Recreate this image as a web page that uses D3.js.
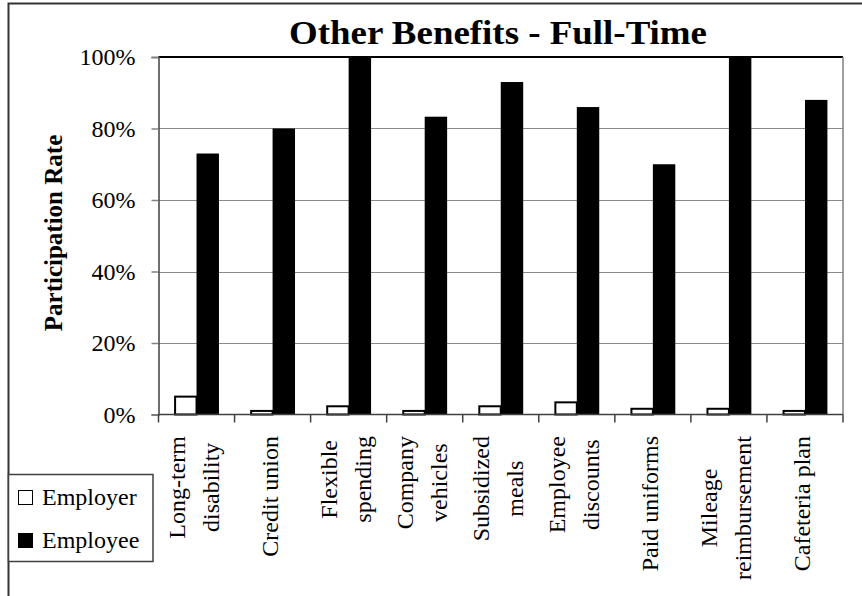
<!DOCTYPE html>
<html>
<head>
<meta charset="utf-8">
<script src="https://cdn.jsdelivr.net/npm/d3@7"></script>
<style>
  html, body { margin: 0; padding: 0; background: #fff; }
  svg { display: block; }
  text { font-family: "Liberation Serif", "Times New Roman", serif; fill: #000; }
</style>
</head>
<body>
<svg id="chart" width="862" height="596"></svg>
<script>
// Benefit categories (each label split into wrapped lines)
const categories = [
  ["Long-term", "disability"],
  ["Credit union"],
  ["Flexible", "spending"],
  ["Company", "vehicles"],
  ["Subsidized", "meals"],
  ["Employee", "discounts"],
  ["Paid uniforms"],
  ["Mileage", "reimbursement"],
  ["Cafeteria plan"]
];
const seriesNames = ["Employer", "Employee"];
// Participation rate (%) paid by employer vs. employee
const employerValues = [5, 1, 2.3, 1, 2.3, 3.4, 1.6, 1.6, 1];
const employeeValues = [73, 80, 100, 83.3, 93, 86, 70, 100, 88];
const yTicks = [0, 20, 40, 60, 80, 100];

const svg = d3.select("#chart");
const plot = { left: 158.5, right: 843, top: 57, bottom: 414.5 };

// Outer chart frame (extends past the visible area on right/bottom)
svg.append("rect")
  .attr("x", 8.5).attr("y", 3.5)
  .attr("width", 900).attr("height", 700)
  .attr("fill", "none").attr("stroke", "#333").attr("stroke-width", 2);

const keys = categories.map((c, i) => i);
const x0 = d3.scaleBand().domain(keys).range([plot.left, plot.right])
  .paddingInner(0.41).paddingOuter(0.205);
const x1 = d3.scaleBand().domain(seriesNames).range([0, x0.bandwidth()]);
const y = d3.scaleLinear().domain([0, 100]).range([plot.bottom, plot.top]);
const step = x0.step();

// Gridlines
svg.append("g").selectAll("line")
  .data(yTicks.filter(t => t > 0 && t < 100))
  .join("line")
  .attr("x1", plot.left).attr("x2", plot.right)
  .attr("y1", d => Math.round(y(d)) + 0.5).attr("y2", d => Math.round(y(d)) + 0.5)
  .attr("stroke", "#8a8a8a").attr("stroke-width", 1);

// Plot area top edge and right edge
svg.append("line")
  .attr("x1", plot.left).attr("x2", plot.right)
  .attr("y1", plot.top).attr("y2", plot.top)
  .attr("stroke", "#000").attr("stroke-width", 2);
svg.append("line")
  .attr("x1", plot.right).attr("x2", plot.right)
  .attr("y1", plot.top).attr("y2", plot.bottom)
  .attr("stroke", "#808080").attr("stroke-width", 1.5);

// Bars
const rows = keys.map(i => ({ i, vals: [employerValues[i], employeeValues[i]] }));
const groups = svg.append("g").selectAll("g")
  .data(rows).join("g")
  .attr("transform", d => `translate(${x0(d.i)},0)`);

groups.selectAll("rect.employee")
  .data(d => [d.vals[1]])
  .join("rect").attr("class", "employee")
  .attr("x", x1("Employee"))
  .attr("width", x1.bandwidth())
  .attr("y", v => y(v))
  .attr("height", v => plot.bottom - y(v))
  .attr("fill", "#000");

groups.selectAll("rect.employer")
  .data(d => [d.vals[0]])
  .join("rect").attr("class", "employer")
  .attr("x", x1("Employer") + 1)
  .attr("width", x1.bandwidth() - 1)
  .attr("y", v => y(v))
  .attr("height", v => plot.bottom - y(v))
  .attr("fill", "#fff").attr("stroke", "#000").attr("stroke-width", 2);

// Y axis
const yAxis = d3.axisLeft(y).tickValues(yTicks).tickSize(7).tickPadding(16)
  .tickFormat(d => d + "%");
const yg = svg.append("g").attr("transform", `translate(${plot.left},0)`).call(yAxis);
yg.select(".domain").attr("stroke", "#404040").attr("stroke-width", 1.5);
yg.selectAll(".tick line").attr("stroke", "#808080").attr("stroke-width", 1.5);
yg.selectAll(".tick text")
  .style("font-family", "'Liberation Serif', serif")
  .style("font-size", "24px").attr("fill", "#000");

// X axis: ticks at category boundaries
const xTickPos = d3.range(categories.length + 1).map(i => plot.left + i * step);
svg.append("line")
  .attr("x1", plot.left).attr("x2", plot.right)
  .attr("y1", plot.bottom).attr("y2", plot.bottom)
  .attr("stroke", "#404040").attr("stroke-width", 1.5);
svg.append("g").selectAll("line")
  .data(xTickPos).join("line")
  .attr("x1", d => d).attr("x2", d => d)
  .attr("y1", plot.bottom).attr("y2", plot.bottom + 8)
  .attr("stroke", "#404040").attr("stroke-width", 1.5);

// Category labels: rotated, wrapped, lines centred within the block,
// block anchored just below the axis
const lineGap = 34;
const catLabels = svg.append("g").selectAll("g")
  .data(categories).join("g")
  .attr("transform", (d, i) => `translate(${plot.left + (i + 0.5) * step},436) rotate(-90)`);
catLabels.each(function (lines) {
  const g = d3.select(this);
  const n = lines.length;
  const texts = lines.map((ln, k) =>
    g.append("text")
      .attr("y", (k - (n - 1) / 2) * lineGap)
      .attr("dy", "0.22em")
      .attr("text-anchor", "middle")
      .style("font-size", "24px")
      .text(ln));
  const maxLen = d3.max(texts, t => t.node().getComputedTextLength());
  texts.forEach(t => t.attr("x", -maxLen / 2));
});

// Title
svg.append("text")
  .attr("x", 498).attr("y", 44)
  .attr("text-anchor", "middle")
  .attr("textLength", 418).attr("lengthAdjust", "spacingAndGlyphs")
  .style("font-size", "34px").style("font-weight", "bold")
  .text("Other Benefits - Full-Time");

// Y axis title
svg.append("text")
  .attr("transform", `translate(62,233) rotate(-90)`)
  .attr("text-anchor", "middle")
  .style("font-size", "25px").style("font-weight", "bold")
  .text("Participation Rate");

// Legend
const legend = svg.append("g");
legend.append("rect")
  .attr("x", 8.5).attr("y", 474.5).attr("width", 144.5).attr("height", 87)
  .attr("fill", "#fff").attr("stroke", "#404040").attr("stroke-width", 1.5);
const legendItems = [
  { name: seriesNames[0], fill: "#fff", y: 497 },
  { name: seriesNames[1], fill: "#000", y: 540 }
];
legendItems.forEach(it => {
  legend.append("rect")
    .attr("x", 18.5).attr("y", it.y - 6.5).attr("width", 14).attr("height", 14)
    .attr("fill", it.fill).attr("stroke", "#000").attr("stroke-width", 1);
  legend.append("text")
    .attr("x", 42).attr("y", it.y).attr("dy", "0.35em")
    .style("font-size", "24px")
    .text(it.name);
});
</script>
</body>
</html>
